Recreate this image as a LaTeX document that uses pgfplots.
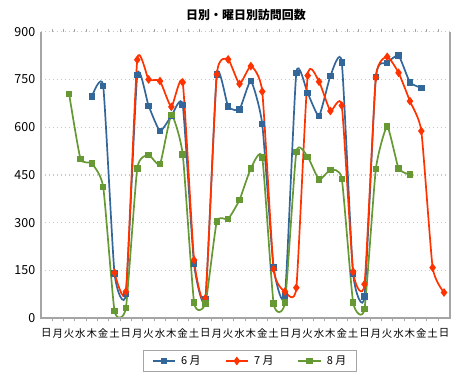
\documentclass[border=0pt]{standalone}
\usepackage{fontspec}
\setmainfont{Noto Sans CJK JP}
\usepackage{pgfplots}
\pgfplotsset{compat=1.18}
\definecolor{c6}{RGB}{51,102,153}
\definecolor{c7}{RGB}{255,51,0}
\definecolor{c8}{RGB}{102,153,51}
\definecolor{axgray}{RGB}{165,165,165}
\definecolor{gridgray}{RGB}{200,200,200}
\begin{document}
\begin{tikzpicture}
\path[use as bounding box] (0,0) rectangle (470bp,380bp);
\node[font=\bfseries\fontsize{12}{14}\selectfont] at (246bp,365bp) {日別・曜日別訪問回数};
\begin{axis}[
 at={(40.7bp,61.7bp)}, anchor=south west,
 scale only axis, width=409bp, height=286.6bp,
 xmin=-0.5, xmax=35.5, ymin=0, ymax=900,
 xtick={0,...,35},
 xticklabels={日,月,火,水,木,金,土,日,月,火,水,木,金,土,日,月,火,水,木,金,土,日,月,火,水,木,金,土,日,月,火,水,木,金,土,日},
 minor xtick={0.5,1.5,...,34.5},
 ytick={0,150,...,900},
 major tick length=0pt, minor tick length=3bp, tick align=outside,
 minor tick style={axgray, line width=1bp},
 axis line style={draw=none},
 ymajorgrids, grid style={gridgray, line width=1.2bp, dash pattern=on 1.2bp off 2.8bp},
 /pgf/number format/assume math mode=true,
 yticklabel style={font=\fontsize{12.5}{14}\selectfont, xshift=-2bp},
 xticklabel style={font=\fontsize{10.5}{12}\selectfont, yshift=-7bp},
 extra description/.code={\draw[axgray, line width=1.7bp] (0,1) -- (0,0) -- (1,0) -- (1,1);},
 legend style={at={(0.512,-0.149)}, anchor=center, legend columns=3, draw=axgray, line width=1bp,
   font=\fontsize{11}{13}\selectfont, inner xsep=8bp, inner ysep=3bp,
   /tikz/every even column/.append style={column sep=22bp},
   /tikz/every odd column/.append style={column sep=3bp}},
 legend image code/.code={\draw[mark repeat=2,mark phase=2,#1] plot coordinates {(0cm,0cm) (0.4cm,0cm) (0.8cm,0cm)};},
]
\addplot[c6, line width=1.7bp, smooth, tension=0.3, mark=square*, mark size=2.4bp, mark options={solid}] coordinates {
(4,696) (5,730) (6,140) (7,77) (8,764) (9,667) (10,588) (11,635) (12,670) (13,170)
(14,61) (15,766) (16,665) (17,656) (18,745) (19,610) (20,160) (21,71) (22,771) (23,707)
(24,636) (25,761) (26,804) (27,140) (28,68) (29,758) (30,802) (31,825) (32,741) (33,724)};
\addlegendentry{6 月}
\addplot[c7, line width=1.7bp, smooth, tension=0.3, mark=diamond*, mark size=3bp, mark options={solid}] coordinates {
(6,143) (7,84) (8,812) (9,750) (10,745) (11,664) (12,741) (13,183) (14,63) (15,766)
(16,813) (17,736) (18,792) (19,712) (20,155) (21,84) (22,96) (23,762) (24,743) (25,651)
(26,668) (27,146) (28,107) (29,756) (30,821) (31,771) (32,682) (33,588) (34,159) (35,81)};
\addlegendentry{7 月}
\addplot[c8, line width=1.7bp, smooth, tension=0.3, mark=square*, mark size=2.4bp, mark options={solid}] coordinates {
(2,705) (3,501) (4,486) (5,413) (6,23) (7,33) (8,471) (9,513) (10,484) (11,638)
(12,515) (13,50) (14,47) (15,304) (16,312) (17,372) (18,471) (19,505) (20,47) (21,50)
(22,522) (23,507) (24,436) (25,466) (26,438) (27,50) (28,29) (29,469) (30,602) (31,471) (32,451)};
\addlegendentry{8 月}
\end{axis}
\end{tikzpicture}
\end{document}
